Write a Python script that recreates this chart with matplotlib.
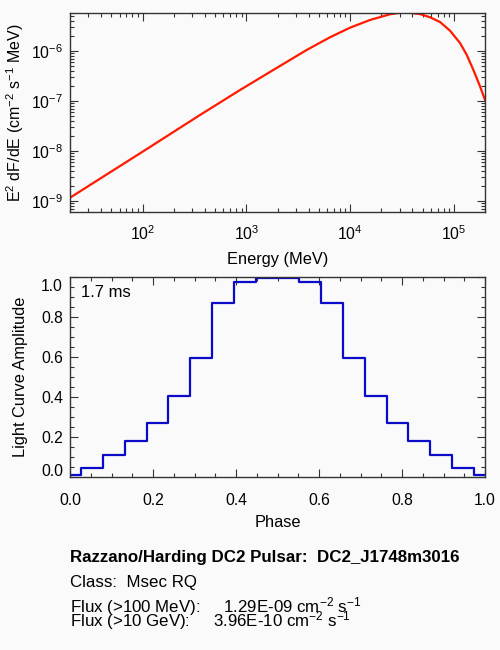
import matplotlib
matplotlib.use('Agg')
import matplotlib.pyplot as plt
import numpy as np
from matplotlib.ticker import (LogLocator, MultipleLocator, NullFormatter,
                               LogFormatterMathtext, FuncFormatter)

plt.rcParams['font.family'] = ['Liberation Sans', 'DejaVu Sans']
plt.rcParams['mathtext.fontset'] = 'custom'
plt.rcParams['mathtext.rm'] = 'Liberation Sans'
plt.rcParams['mathtext.it'] = 'Liberation Sans:italic'
plt.rcParams['mathtext.bf'] = 'Liberation Sans:bold'
plt.rcParams['font.size'] = 11

# spectrum (log10 E in MeV, log10 E^2 dF/dE)
log_energy = [1.301, 2.002, 2.554, 2.940, 3.260, 3.582, 3.807, 4.000, 4.193,
              4.385, 4.482, 4.530, 4.578, 4.675, 4.771, 4.867, 4.964, 5.060,
              5.124, 5.188, 5.253, 5.301]
log_flux = [-8.934, -8.012, -7.280, -6.780, -6.380, -5.980, -5.726, -5.534,
            -5.380, -5.266, -5.236, -5.232, -5.238, -5.262, -5.326, -5.420,
            -5.594, -5.840, -6.074, -6.374, -6.706, -6.980]

# light curve, 20 phase bins
phase = [0.000, 0.053, 0.105, 0.158, 0.211, 0.263, 0.316, 0.368, 0.421, 0.474,
         0.526, 0.579, 0.632, 0.684, 0.737, 0.789, 0.842, 0.895, 0.947, 1.000]
amplitude = [0.007, 0.042, 0.109, 0.179, 0.271, 0.405, 0.594, 0.870, 0.975, 0.995,
             0.995, 0.975, 0.870, 0.594, 0.405, 0.271, 0.179, 0.109, 0.042, 0.007]

period_label = '1.7 ms'
info_lines = [
    'Razzano/Harding DC2 Pulsar:  DC2_J1748m3016',
    'Class:  Msec RQ',
    r'Flux (>100 MeV):     1.29E-09 cm$^{-2}$ s$^{-1}$',
    r'Flux (>10 GeV):     3.96E-10 cm$^{-2}$ s$^{-1}$',
]

bg = '#fafafa'
axcol = '#333333'

fig = plt.figure(figsize=(5, 6.5), dpi=100, facecolor=bg)


def style_axes(ax):
    ax.set_facecolor(bg)
    for s in ax.spines.values():
        s.set_color(axcol)
        s.set_linewidth(1.0)
    ax.tick_params(which='both', direction='in', top=True, right=True,
                   color=axcol, labelsize=11.3)
    ax.tick_params(which='major', length=6, width=0.8)
    ax.tick_params(which='minor', length=3, width=0.8)


# spectrum
ax1 = fig.add_axes([0.14, 0.6738, 0.83, 0.3067])
style_axes(ax1)
ax1.plot(10 ** np.array(log_energy), 10 ** np.array(log_flux), color='#ff1a00', lw=1.6)
ax1.set_xscale('log')
ax1.set_yscale('log')
ax1.set_xlim(20, 2e5)
ax1.set_ylim(10 ** -9.22, 10 ** -5.234)
ax1.xaxis.set_major_locator(LogLocator(base=10, numticks=10))
ax1.xaxis.set_minor_locator(LogLocator(base=10, subs=np.arange(2, 10), numticks=20))
ax1.yaxis.set_major_locator(LogLocator(base=10, numticks=10))
ax1.yaxis.set_minor_locator(LogLocator(base=10, subs=np.arange(2, 10), numticks=20))
ax1.xaxis.set_major_formatter(LogFormatterMathtext())
ax1.yaxis.set_major_formatter(LogFormatterMathtext())
ax1.xaxis.set_minor_formatter(NullFormatter())
ax1.yaxis.set_minor_formatter(NullFormatter())
ax1.tick_params(axis='x', which='major', pad=9)
ax1.tick_params(axis='y', which='major', pad=5)
ax1.set_xlabel('Energy (MeV)', fontsize=11.8, labelpad=6)
ax1.set_ylabel(r'E$^2$ dF/dE (cm$^{-2}$ s$^{-1}$ MeV)', fontsize=11.5)
ax1.yaxis.set_label_coords(-0.106, 0.5)

# light curve
ax2 = fig.add_axes([0.14, 0.2666, 0.83, 0.3065])
style_axes(ax2)
ax2.step(phase, amplitude, where='mid', color='#0a0ac8', lw=1.6)
ax2.set_xlim(0, 1)
ax2.set_ylim(0, 1)
ax2.xaxis.set_major_locator(MultipleLocator(0.2))
ax2.xaxis.set_minor_locator(MultipleLocator(0.05))
ax2.yaxis.set_major_locator(MultipleLocator(0.2))
ax2.yaxis.set_minor_locator(MultipleLocator(0.05))
ax2.xaxis.set_major_formatter(plt.FormatStrFormatter('%.1f'))
# end labels of the y axis are drawn by hand, nudged inwards
ax2.yaxis.set_major_formatter(
    FuncFormatter(lambda v, p: '' if v < 0.01 or v > 0.99 else '%.1f' % v))
ax2.tick_params(axis='x', which='major', pad=12)
ax2.tick_params(axis='y', which='major', pad=5)
for val, dy in [(1.0, -6.5), (0.0, 3.6)]:
    ax2.annotate('%.1f' % val, xy=(0, val), xycoords=('axes fraction', 'data'),
                 xytext=(-5, dy), textcoords='offset points',
                 ha='right', va='center', fontsize=11.3)
ax2.set_xlabel('Phase', fontsize=11.8, labelpad=5)
ax2.set_ylabel('Light Curve Amplitude', fontsize=11.8)
ax2.yaxis.set_label_coords(-0.101, 0.5)
ax2.text(0.026, 0.926, period_label, transform=ax2.transAxes, fontsize=12,
         ha='left', va='center')

# info text below the plots
fig.text(0.141, 0.1354, info_lines[0], fontsize=12.2, fontweight='bold', va='baseline')
fig.text(0.141, 0.0969, info_lines[1], fontsize=12.2, va='baseline')
fig.text(0.141, 0.0585, info_lines[2], fontsize=12.2, va='baseline')
fig.text(0.141, 0.0362, info_lines[3], fontsize=12.2, va='baseline')

fig.savefig('out.png', dpi=100, facecolor=bg)
